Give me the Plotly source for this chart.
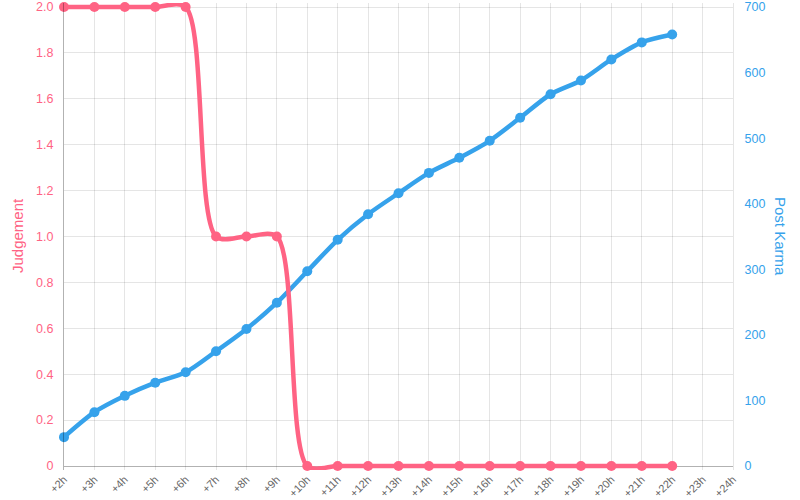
import plotly.graph_objects as go

hours = list(range(2, 25))
tick_labels = [f"+{h}h" for h in hours]

data_hours = list(range(2, 23))
judgement = [2, 2, 2, 2, 2, 1, 1, 1, 0, 0, 0, 0, 0, 0, 0, 0, 0, 0, 0, 0, 0]
post_karma = [44, 82, 107, 127, 143, 175, 209, 249, 297, 345, 384, 416,
              447, 470, 496, 531, 567, 588, 620, 646, 658]

left_vals = [0, 0.2, 0.4, 0.6, 0.8, 1.0, 1.2, 1.4, 1.6, 1.8, 2.0]
left_text = ["0", "0.2", "0.4", "0.6", "0.8", "1.0", "1.2", "1.4", "1.6", "1.8", "2.0"]
right_vals = [0, 100, 200, 300, 400, 500, 600, 700]

RED = "#FF6384"
BLUE = "#36A2EB"
FONT = "Liberation Sans"

# plot area: value 0 at y=466px, top value at y=7px; pad 4px each side so lines aren't clipped
PAD_PX = 4
SPAN_PX = 459
lpad = 2 * PAD_PX / SPAN_PX
rpad = 700 * PAD_PX / SPAN_PX

fig = go.Figure()
fig.add_trace(go.Scatter(
    x=data_hours, y=post_karma, yaxis="y", mode="lines+markers",
    line=dict(color=BLUE, width=4.5, shape="spline", smoothing=0.8),
    marker=dict(color=BLUE, size=10), cliponaxis=False, name="Post Karma"))
fig.add_trace(go.Scatter(
    x=data_hours, y=judgement, yaxis="y2", mode="lines+markers",
    line=dict(color=RED, width=4.5, shape="spline", smoothing=0.85),
    marker=dict(color=RED, size=10), cliponaxis=False, name="Judgement"))

fig.update_layout(
    width=800, height=500,
    margin=dict(l=64, r=67, t=7 - PAD_PX, b=34 - PAD_PX, autoexpand=False),
    paper_bgcolor="white", plot_bgcolor="white",
    showlegend=False,
    font=dict(family=FONT, size=12),
    xaxis=dict(
        range=[2, 24], tickvals=hours, ticktext=tick_labels,
        tickangle=-45, tickfont=dict(color="#666", size=11),
        showgrid=True, gridcolor="rgba(0,0,0,0.1)", gridwidth=1,
        showline=False, zeroline=False,
        ticks="", ticklen=0,
        automargin=False,
    ),
    yaxis=dict(
        side="right", range=[-rpad, 700 + rpad], tickvals=right_vals,
        tickfont=dict(color=BLUE, size=12.5),
        showgrid=False, zeroline=False,
        showline=True, linecolor="rgba(0,0,0,0.1)", linewidth=1,
        ticks="outside", ticklen=8, tickcolor="rgba(0,0,0,0)",
        automargin=False,
    ),
    yaxis2=dict(
        overlaying="y", side="left", range=[-lpad, 2 + lpad],
        tickvals=left_vals, ticktext=left_text,
        tickfont=dict(color=RED, size=12.5),
        showgrid=True, gridcolor="rgba(0,0,0,0.1)", gridwidth=1,
        zeroline=True, zerolinecolor="rgba(0,0,0,0.3)", zerolinewidth=1,
        showline=True, linecolor="rgba(0,0,0,0.3)", linewidth=1,
        ticks="outside", ticklen=7, tickcolor="rgba(0,0,0,0)",
        automargin=False,
    ),
    annotations=[
        dict(text="Judgement", xref="paper", yref="paper",
             x=(17 - 64) / 669, y=(470 - 236) / 467, xanchor="center", yanchor="middle",
             textangle=-90, showarrow=False, font=dict(color=RED, size=15, family=FONT)),
        dict(text="Post Karma", xref="paper", yref="paper",
             x=(781 - 64) / 669, y=(470 - 236) / 467, xanchor="center", yanchor="middle",
             textangle=90, showarrow=False, font=dict(color=BLUE, size=15, family=FONT)),
    ],
)

fig.write_html(
    "out.html",
    config={"displayModeBar": False},
    post_script="document.body.style.margin='0';document.body.style.overflow='hidden';",
)
